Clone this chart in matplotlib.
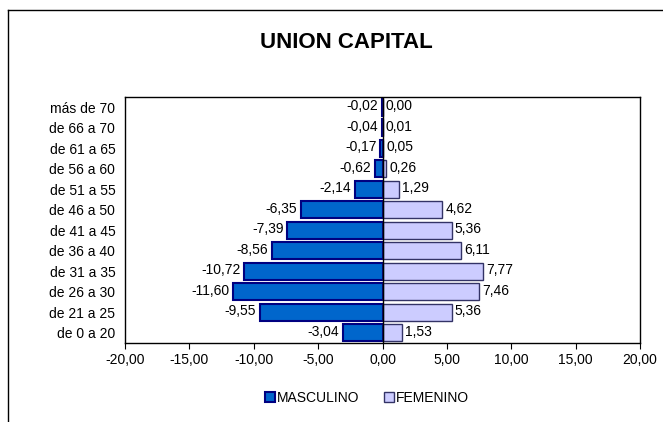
import matplotlib.pyplot as plt
import numpy as np

plt.rcParams['font.family'] = ['Liberation Sans', 'DejaVu Sans']

# age groups, bottom to top
grupos = ['de 0 a 20', 'de 21 a 25', 'de 26 a 30', 'de 31 a 35', 'de 36 a 40',
          'de 41 a 45', 'de 46 a 50', 'de 51 a 55', 'de 56 a 60', 'de 61 a 65',
          'de 66 a 70', 'más de 70']
masculino = [-3.04, -9.55, -11.60, -10.72, -8.56, -7.39, -6.35, -2.14, -0.62, -0.17, -0.04, -0.02]
femenino = [1.53, 5.36, 7.46, 7.77, 6.11, 5.36, 4.62, 1.29, 0.26, 0.05, 0.01, 0.00]
xticks = [-20, -15, -10, -5, 0, 5, 10, 15, 20]

def fmt(v):
    return ('%.2f' % v).replace('.', ',')

fs = 10
fig = plt.figure(figsize=(6.63, 4.22), dpi=100)
ax = fig.add_axes([125/663, 1 - 343/422, (640-125)/663, (343-97)/422])

y = np.arange(len(grupos))
ax.barh(y, masculino, height=0.85, color='#0066CC', edgecolor='#000080', linewidth=1.5, label='MASCULINO')
ax.barh(y, femenino, height=0.85, color='#CCCCFF', edgecolor='#333366', linewidth=1.0, label='FEMENINO')
ax.axvline(0, color='black', linewidth=1)

for i in range(len(grupos)):
    ax.text(masculino[i] - 0.3, y[i] + 0.05, fmt(masculino[i]), ha='right', va='center', fontsize=fs)
    ax.text(femenino[i] + 0.25, y[i] + 0.05, fmt(femenino[i]), ha='left', va='center', fontsize=fs)

ax.set_xlim(-20, 20)
ax.set_ylim(-0.5, len(grupos) - 0.5)
ax.set_xticks(xticks)
ax.set_xticklabels([fmt(t) for t in xticks], fontsize=fs)
ax.set_yticks(y)
ax.set_yticklabels(grupos, fontsize=fs)
ax.tick_params(axis='y', length=0, pad=7)
ax.tick_params(axis='x', direction='out', length=4, pad=3)
for s in ax.spines.values():
    s.set_linewidth(1)

fig.text(346/663, 1 - 43/422, 'UNION CAPITAL', ha='center', va='center', fontsize=16, fontweight='bold')

fig.legend(loc='center', bbox_to_anchor=(367/663, 1 - 398/422), ncol=2, frameon=False,
           fontsize=fs, handlelength=0.72, handleheight=0.72, handletextpad=0.15, columnspacing=1.8)

# outer chart frame (cut at right and bottom)
fig.add_artist(plt.Line2D([8/663, 1], [1 - 10/422, 1 - 10/422], color='black', linewidth=1, transform=fig.transFigure))
fig.add_artist(plt.Line2D([8/663, 8/663], [0, 1 - 10/422], color='black', linewidth=1, transform=fig.transFigure))

fig.savefig('out.png', dpi=100)
